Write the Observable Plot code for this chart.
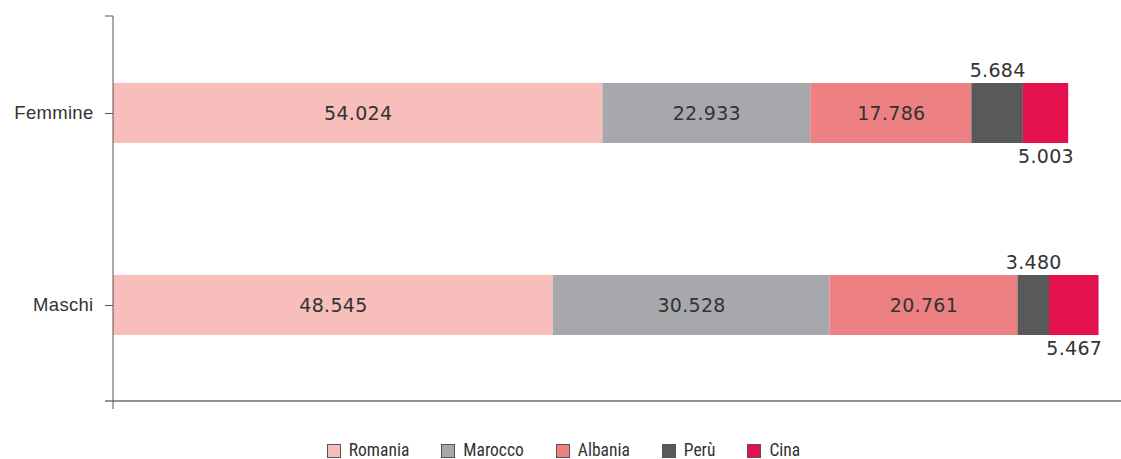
<!DOCTYPE html>
<html>
<head>
<meta charset="utf-8">
<script src="https://cdn.jsdelivr.net/npm/d3@7"></script>
<script src="https://cdn.jsdelivr.net/npm/@observablehq/plot@0.6"></script>
<style>
  html, body { margin: 0; padding: 0; background: #fff; }
  #chart { width: 1121px; }
  .legend { display: flex; justify-content: center; align-items: center; gap: 32px; padding-top: 15px; padding-left: 6px;
            font-family: "Liberation Sans Narrow", "Roboto Condensed", "Liberation Sans", sans-serif; font-size: 17.5px; color: #333; line-height: 15px; }
  .legend .item { display: flex; align-items: center; gap: 8px; }
  .legend .sw { width: 14px; height: 14px; box-sizing: border-box; border: 1px solid #555; }
</style>
</head>
<body>
<div id="chart"></div>
<script>
const groups = ["Femmine", "Maschi"];
const countries = ["Romania", "Marocco", "Albania", "Perù", "Cina"];
const colors = ["#f7bebb", "#a7a8ac", "#ec8082", "#58595b", "#e3124f"];
const femmine = [54024, 22933, 17786, 5684, 5003];
const maschi = [48545, 30528, 20761, 3480, 5467];
const labelAbove = "Perù";
const labelBelow = "Cina";

const data = [];
countries.forEach((c, i) => {
  data.push({group: "Femmine", country: c, value: femmine[i]});
  data.push({group: "Maschi", country: c, value: maschi[i]});
});

const fmt = d3.formatLocale({decimal: ",", thousands: ".", grouping: [3], currency: ["€", ""]}).format(",");
const stackOpts = (extra) => Plot.stackX({x: "value", y: "group", z: "country", order: countries, ...extra});

const axisFrame = (index, scales, values, dims) => {
  const g = d3.create("svg:g");
  const x0 = dims.marginLeft;
  const top = dims.marginTop;
  const bottom = dims.height - dims.marginBottom;
  g.append("line").attr("x1", x0 - 8).attr("x2", dims.width).attr("y1", bottom).attr("y2", bottom)
    .attr("stroke", "#707070").attr("stroke-width", 1.5);
  g.append("line").attr("x1", x0).attr("x2", x0).attr("y1", top).attr("y2", bottom + 8)
    .attr("stroke", "#555").attr("stroke-width", 1);
  g.append("line").attr("x1", x0 - 8).attr("x2", x0).attr("y1", top).attr("y2", top)
    .attr("stroke", "#555").attr("stroke-width", 1);
  return g.node();
};

const textStyle = {fill: "#333", fontSize: 19, fontFamily: "DejaVu Sans, sans-serif", text: d => fmt(d.value)};

const chart = Plot.plot({
  width: 1121,
  height: 428,
  marginLeft: 113,
  marginRight: 11.4,
  marginTop: 16,
  marginBottom: 27,
  style: {fontFamily: "Liberation Sans, Arial, sans-serif", background: "#fff", overflow: "visible"},
  x: {domain: [0, 110000], axis: null},
  y: {domain: groups, padding: 0, axis: null},
  color: {domain: countries, range: colors},
  marks: [
    Plot.barX(data, stackOpts({fill: "country", insetTop: 66, insetBottom: 66})),
    Plot.text(data, Plot.filter(d => d.country !== labelAbove && d.country !== labelBelow,
      stackOpts({...textStyle}))),
    Plot.text(data, Plot.filter(d => d.country === labelAbove,
      stackOpts({dy: -43, ...textStyle}))),
    Plot.text(data, Plot.filter(d => d.country === labelBelow,
      stackOpts({dy: 43, ...textStyle}))),
    Plot.axisY({tickSize: 8, tickPadding: 12, label: null, fontSize: 18.5, stroke: "#555", color: "#333"}),
    axisFrame
  ]
});
chart.style.letterSpacing = "0.3px";
document.getElementById("chart").appendChild(chart);

const legend = d3.select("#chart").append("div").attr("class", "legend");
countries.forEach((c, i) => {
  const item = legend.append("div").attr("class", "item");
  item.append("div").attr("class", "sw").style("background", colors[i]);
  item.append("span").text(c);
});
</script>
</body>
</html>
